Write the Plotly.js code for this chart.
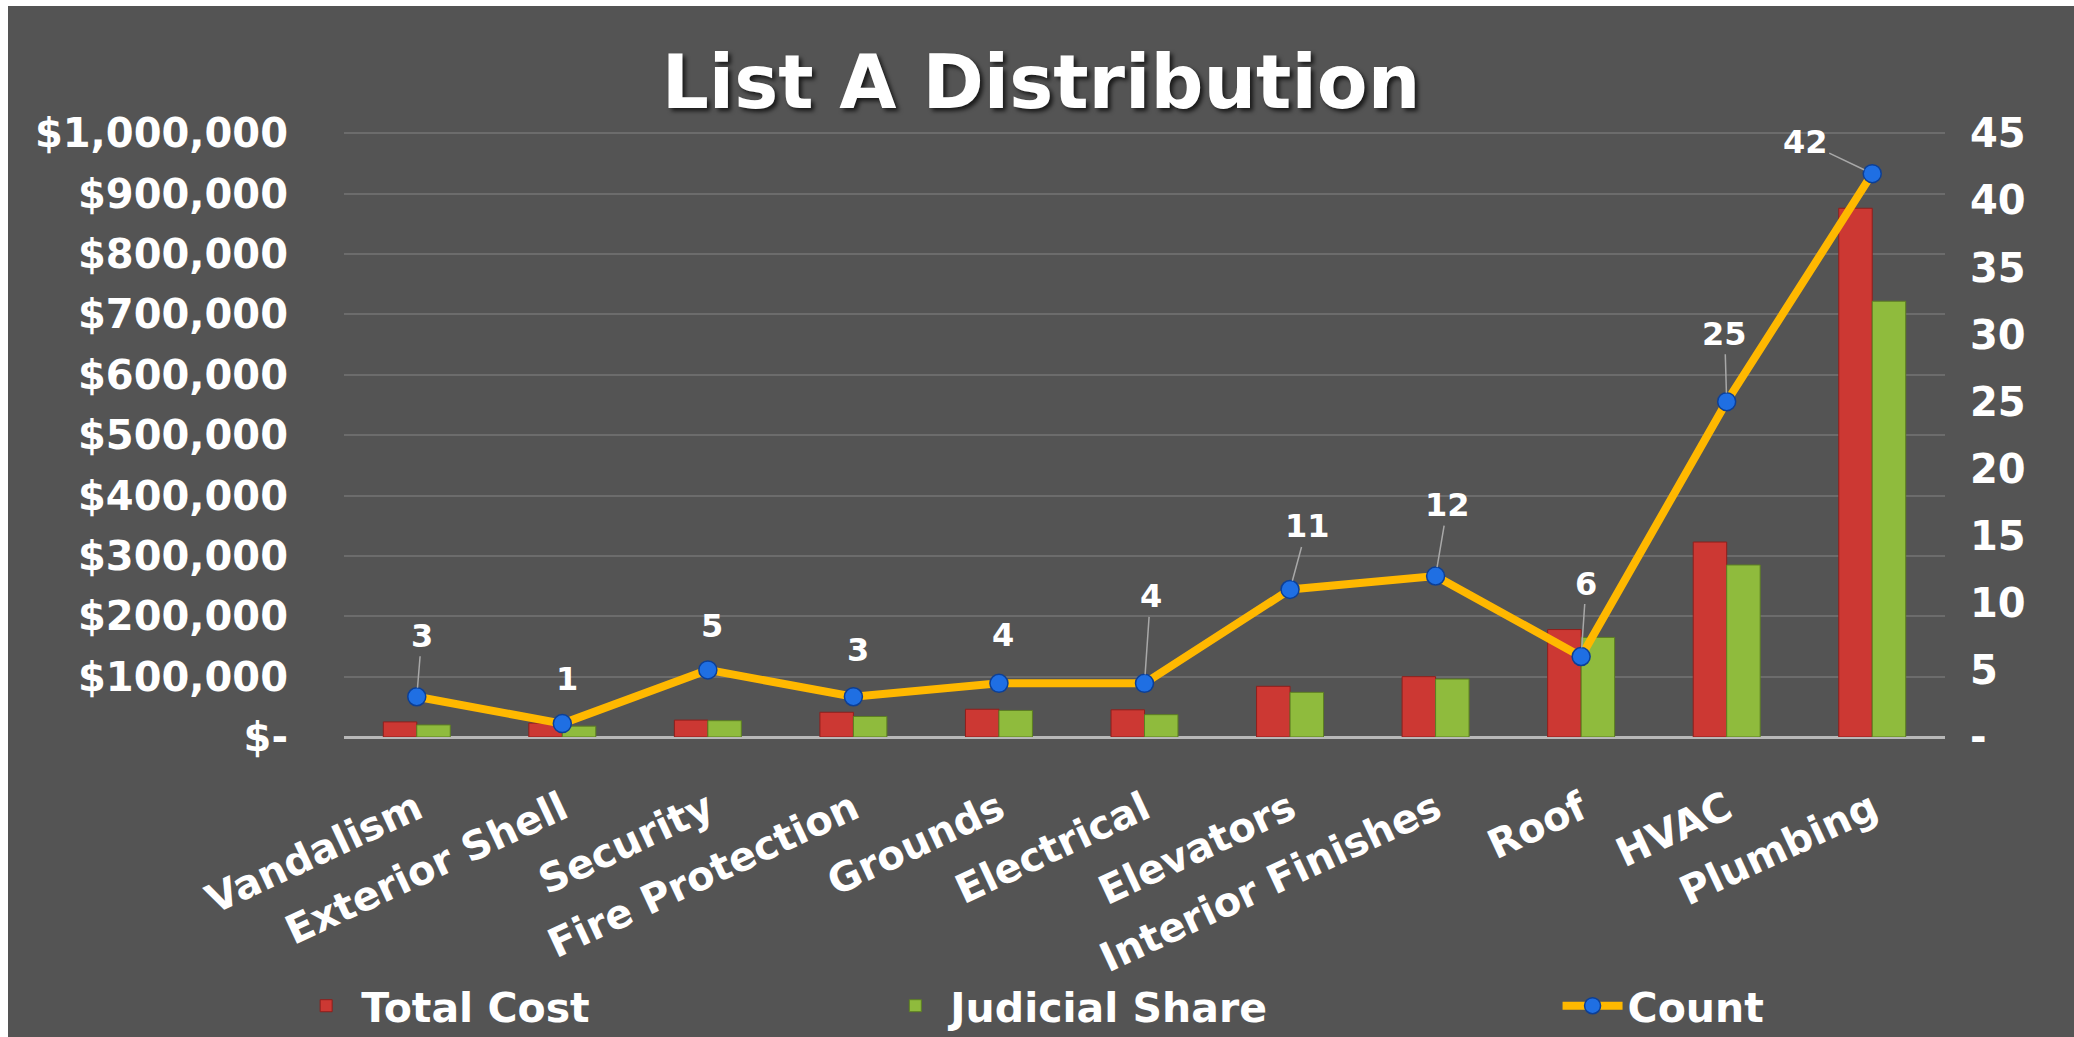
<!DOCTYPE html>
<html>
<head>
<meta charset="utf-8">
<script src="https://cdn.plot.ly/plotly-3.0.1.min.js"></script>
<style>
  html, body { margin: 0; padding: 0; background: #ffffff; width: 2074px; height: 1037px; overflow: hidden; }
  #chart { position: absolute; left: 8px; top: 6px; width: 2066px; height: 1031px; }
</style>
</head>
<body>
<div id="chart"></div>
<script>
// ---- data ----
const categories = ["Vandalism", "Exterior Shell", "Security", "Fire Protection", "Grounds",
  "Electrical", "Elevators", "Interior Finishes", "Roof", "HVAC", "Plumbing"];
const totalCost = [25000, 23000, 28000, 41000, 46000, 45000, 84000, 100000, 178000, 323000, 876000];
const judicialShare = [20000, 18000, 27000, 34000, 44000, 37000, 74000, 96000, 165000, 285000, 722000];
const counts = [3, 1, 5, 3, 4, 4, 11, 12, 6, 25, 42];
const costTickVals = [0, 100000, 200000, 300000, 400000, 500000, 600000, 700000, 800000, 900000, 1000000];
const costTickText = ["$-", "$100,000", "$200,000", "$300,000", "$400,000", "$500,000",
  "$600,000", "$700,000", "$800,000", "$900,000", "$1,000,000"];
const countTickVals = [0, 5, 10, 15, 20, 25, 30, 35, 40, 45];
const countTickText = ["-", "5", "10", "15", "20", "25", "30", "35", "40", "45"];

// ---- label placement (layout only) ----
const labelOffsets = [[5, -61], [5, -45], [4, -44], [5, -47], [4, -48], [6, -87],
  [17, -63], [12, -71], [5, -73], [-2, -68], [-67, -32]];
const labelLeader = [true, false, false, false, false, true, true, true, true, true, true];

const FONT = "DejaVu Sans, Verdana, sans-serif";
const EDGE = 1.004; // keeps the top gridline inside the plot

const traces = [
  {
    type: "bar", name: "Total Cost", x: categories, y: totalCost, legend: "legend",
    marker: { color: "#cc3833", line: { color: "#8e1f1c", width: 1 } },
    hoverinfo: "skip"
  },
  {
    type: "bar", name: "Judicial Share", x: categories, y: judicialShare, legend: "legend2",
    marker: { color: "#8fbb3d", line: { color: "#5d7f22", width: 1 } },
    hoverinfo: "skip"
  },
  {
    type: "scatter", mode: "lines+markers", name: "Count", x: categories, y: counts, yaxis: "y2",
    legend: "legend3",
    line: { color: "#ffb800", width: 8 },
    marker: { color: "#1f6fe3", size: 18, line: { color: "#0c3f96", width: 1.5 } },
    hoverinfo: "skip"
  }
];

const annotations = categories.map((c, i) => ({
  x: c, y: counts[i], xref: "x", yref: "y2",
  text: String(counts[i]),
  showarrow: true, arrowhead: 0, arrowwidth: 1.5,
  arrowcolor: labelLeader[i] ? "#a8a8a8" : "rgba(0,0,0,0)",
  ax: labelOffsets[i][0], ay: labelOffsets[i][1], standoff: 9,
  font: { family: FONT, size: 32, color: "#ffffff", weight: "bold" }
}));

const legendFont = { family: FONT, size: 41, color: "#ffffff", weight: "bold" };
const legendBase = {
  orientation: "h", xanchor: "left", y: -0.444, yanchor: "middle",
  font: legendFont, bgcolor: "rgba(0,0,0,0)", itemwidth: 60
};

const layout = {
  width: 2066, height: 1031,
  paper_bgcolor: "#545454", plot_bgcolor: "#545454",
  margin: { l: 336, r: 129, t: 125, b: 300, pad: 0, autoexpand: false },
  title: {
    text: "List A Distribution",
    x: 0.5, xanchor: "center", xref: "container",
    y: 0.926, yanchor: "middle", yref: "container",
    font: { family: FONT, size: 74, color: "#ffffff", weight: "bold", shadow: "3px 3px 4px rgba(0,0,0,0.7)" }
  },
  barmode: "group", bargap: 0.54, bargroupgap: 0,
  showlegend: true,
  legend: Object.assign({}, legendBase, { x: -0.033 }),
  legend2: Object.assign({}, legendBase, { x: 0.335 }),
  legend3: Object.assign({}, legendBase, { x: 0.758 }),
  xaxis: {
    type: "category", range: [-0.5, categories.length - 0.5],
    tickangle: -25, showgrid: false, ticks: "",
    ticklabelstandoff: 40,
    tickfont: { family: FONT, size: 40, color: "#ffffff", weight: "bold" },
    showline: false, zeroline: false
  },
  yaxis: {
    range: [0, 1000000 * EDGE], tickvals: costTickVals, ticktext: costTickText,
    showgrid: true, gridcolor: "#6c6c6c", gridwidth: 2,
    zeroline: true, zerolinecolor: "#b8b8b8", zerolinewidth: 3,
    ticks: "", ticklabelstandoff: 55,
    tickfont: { family: FONT, size: 40, color: "#ffffff", weight: "bold" },
    showline: false
  },
  yaxis2: {
    range: [0, 45 * EDGE], tickvals: countTickVals, ticktext: countTickText,
    overlaying: "y", side: "right", showgrid: false, zeroline: false,
    ticks: "", ticklabelstandoff: 24,
    tickfont: { family: FONT, size: 40, color: "#ffffff", weight: "bold" },
    showline: false
  },
  annotations: annotations
};

Plotly.newPlot("chart", traces, layout, { staticPlot: true, displayModeBar: false });
</script>
</body>
</html>
